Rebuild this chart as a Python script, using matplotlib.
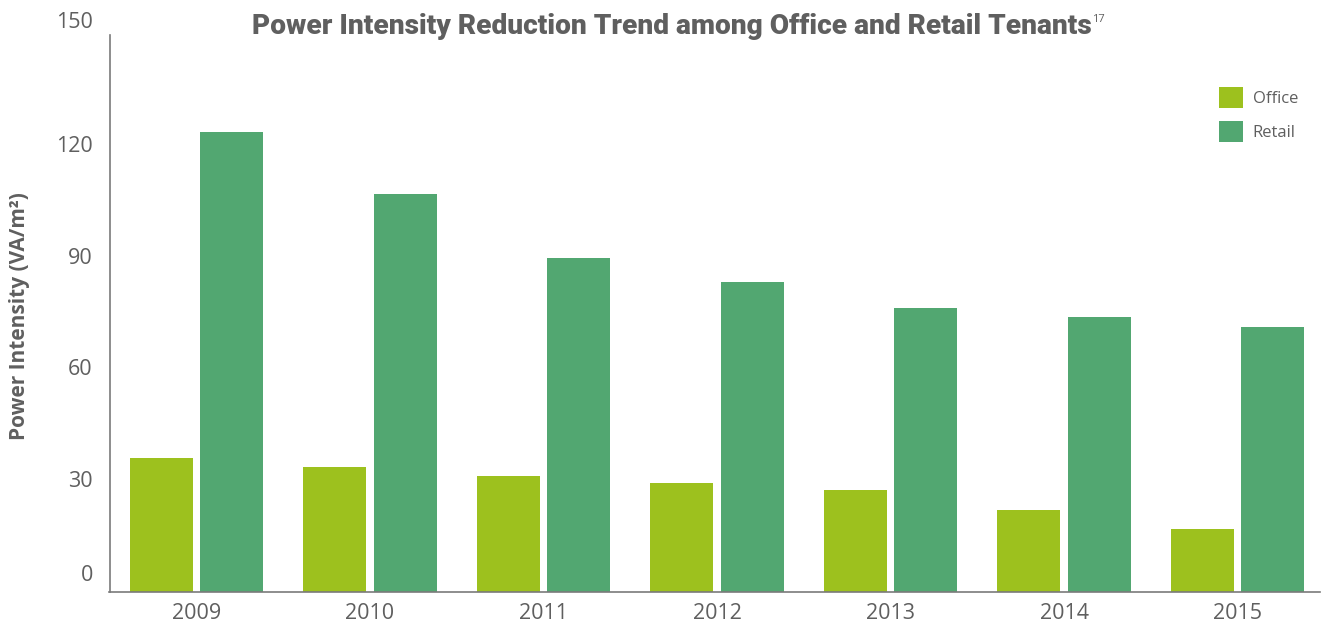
import matplotlib.pyplot as plt
import matplotlib.transforms as mtransforms
import numpy as np

years = ["2009", "2010", "2011", "2012", "2013", "2014", "2015"]
office = [36.2, 33.8, 31.4, 29.5, 27.4, 22.2, 17.1]
retail = [123.8, 107.1, 90.1, 83.4, 76.4, 74.0, 71.5]
y_ticks = [0, 30, 60, 90, 120, 150]

OFFICE_COLOR = "#9dc11e"
RETAIL_COLOR = "#52a771"
TEXT_COLOR = "#5f5f5f"
AXIS_COLOR = "#7a7a7a"

plt.rcParams["font.family"] = ["Open Sans", "DejaVu Sans"]

fig = plt.figure(figsize=(13.26, 6.26), dpi=100)
ax = fig.add_axes([109.5 / 1326, 1 - 592.3 / 626, (1320 - 109.5) / 1326, (592.3 - 35) / 626])

x = np.arange(len(years))
width = 0.363
offset = 0.203
ax.bar(x - offset, office, width=width, color=OFFICE_COLOR, label="Office", zorder=2)
ax.bar(x + offset, retail, width=width, color=RETAIL_COLOR, label="Retail", zorder=2)

ax.set_xlim(-0.501, 6.475)
ax.set_ylim(0, 150)
ax.set_xticks(x)
ax.set_xticklabels(years)
ax.set_yticks(y_ticks)
ax.set_yticklabels([str(v) for v in y_ticks])
ax.tick_params(axis="both", length=0, labelsize=15.5, labelcolor=TEXT_COLOR)
ax.tick_params(axis="y", pad=12)
ax.tick_params(axis="x", pad=8)

# nudge the end labels upward, as in the printed layout
shifts = {0: 19, 150: 15}
for val, lab in zip(y_ticks, ax.get_yticklabels()):
    dy = shifts.get(val, 2)
    lab.set_transform(lab.get_transform() + mtransforms.ScaledTranslation(0, dy / 100, fig.dpi_scale_trans))

for side in ("top", "right"):
    ax.spines[side].set_visible(False)
for side in ("left", "bottom"):
    ax.spines[side].set_color(AXIS_COLOR)
    ax.spines[side].set_linewidth(1.2)

ax.set_ylabel("Power Intensity (VA/m²)", fontsize=15, fontweight="bold", color=TEXT_COLOR)
ax.yaxis.set_label_coords((30 - 109.5) / 1210.5, 0.496)

title = fig.text(0.507, 1 - 26 / 626, "Power Intensity Reduction Trend among Office and Retail Tenants",
                 ha="center", va="center", fontsize=20.2, fontweight="black", color=TEXT_COLOR,
                 family=["Roboto", "DejaVu Sans"])
ax.annotate("17", xy=(1, 1), xycoords=title, xytext=(0, -1), textcoords="offset points",
            ha="left", va="top", fontsize=8, color=TEXT_COLOR)

leg = ax.legend(loc="upper right", bbox_to_anchor=(1313 / 1326, 1 - 72 / 626),
                bbox_transform=fig.transFigure, frameon=False, fontsize=12,
                handlelength=1.42, handleheight=1.6, handletextpad=0.6, labelspacing=0.75)
for t in leg.get_texts():
    t.set_color(TEXT_COLOR)

fig.savefig("out.png", dpi=100)
